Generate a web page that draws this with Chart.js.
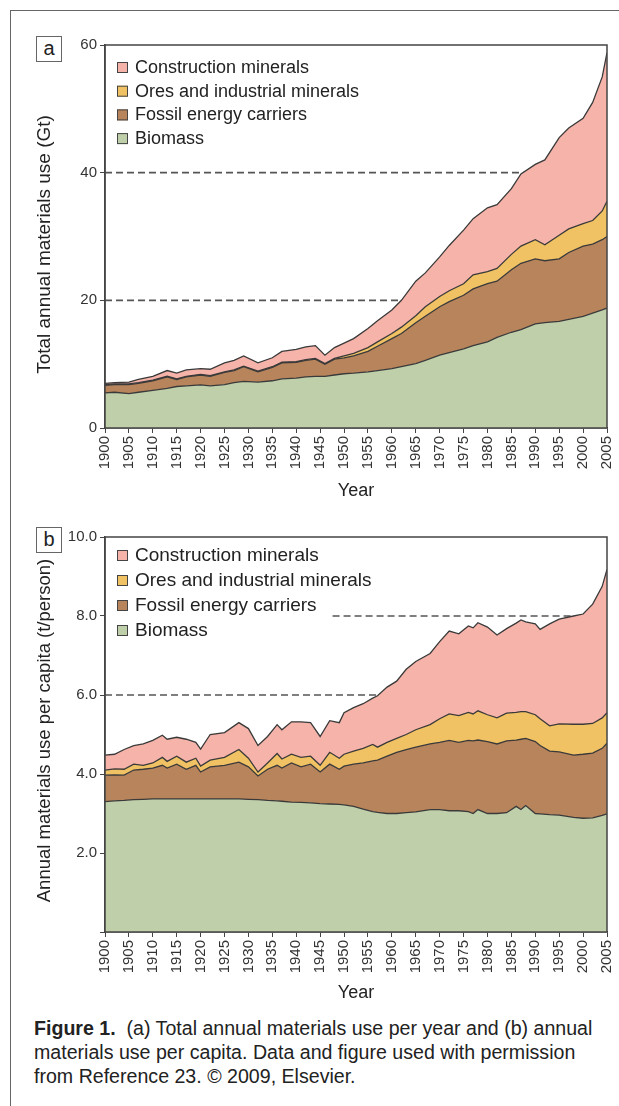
<!DOCTYPE html>
<html>
<head>
<meta charset="utf-8">
<script src="https://cdn.jsdelivr.net/npm/chart.js@4.4.1/dist/chart.umd.min.js"></script>
<style>
  body { margin: 0; width: 619px; height: 1106px; background: #fff; position: relative; overflow: hidden;
         font-family: "Liberation Sans", Arial, Helvetica, sans-serif; color: #222; }
  #frame { position: absolute; left: 10px; top: 10px; width: 640px; height: 1120px;
           border-top: 1.5px solid #666; border-left: 1.5px solid #666; }
  .wrap { position: absolute; left: 0; width: 628px; }
  #wrapA { top: 30px; height: 485px; }
  #wrapB { top: 520px; height: 490px; }
  .tag { position: absolute; left: 36px; width: 24px; height: 24px; border: 1px solid #666; background: #fff;
         font-size: 20px; text-align: center; line-height: 22px; }
  #caption { position: absolute; left: 34px; top: 1016px; width: 585px; font-size: 19.6px; line-height: 24px;
             color: #222; white-space: nowrap; }
</style>
</head>
<body>
<div id="frame"></div>
<div class="wrap" id="wrapA"><canvas id="chartA" width="628" height="485"></canvas></div>
<div class="wrap" id="wrapB"><canvas id="chartB" width="628" height="490"></canvas></div>
<div class="tag" style="top:36px">a</div>
<div class="tag" style="top:527px">b</div>
<div id="caption"><b>Figure 1.</b>&nbsp; (a) Total annual materials use per year and (b) annual<br>materials use per capita. Data and figure used with permission<br>from Reference 23. © 2009, Elsevier.</div>

<script>
// (a) 연간 총 사용량 (Gt)
const yearsA = [1900, 1902, 1905, 1907, 1910, 1913, 1915, 1917, 1920, 1922, 1925, 1927, 1929, 1932, 1935,
                1937, 1940, 1942, 1944, 1946, 1948, 1950, 1952, 1955, 1957, 1960, 1962, 1965, 1967, 1970,
                1972, 1975, 1977, 1980, 1982, 1985, 1987, 1990, 1992, 1995, 1997, 2000, 2002, 2004, 2005];
const biomassA = [5.5, 5.6, 5.4, 5.6, 5.9, 6.2, 6.5, 6.6, 6.75, 6.6, 6.8, 7.1, 7.3, 7.2, 7.4,
                  7.7, 7.8, 8.0, 8.1, 8.1, 8.3, 8.5, 8.6, 8.8, 9.0, 9.3, 9.6, 10.1, 10.6, 11.4,
                  11.8, 12.4, 12.9, 13.5, 14.2, 15.0, 15.4, 16.3, 16.5, 16.7, 17.0, 17.5, 18.0, 18.5, 18.8];
const fossilA = [1.2, 1.2, 1.4, 1.4, 1.5, 1.8, 1.1, 1.4, 1.55, 1.5, 1.9, 1.9, 2.3, 1.6, 2.1,
                 2.5, 2.5, 2.6, 2.7, 1.9, 2.5, 2.5, 2.7, 3.2, 3.8, 4.7, 5.2, 6.4, 6.9, 7.6,
                 8.0, 8.4, 8.9, 9.1, 8.8, 9.8, 10.4, 10.2, 9.7, 9.8, 10.5, 11.0, 10.8, 11.0, 11.2];
const oresA = [0.1, 0.1, 0.1, 0.1, 0.1, 0.1, 0.1, 0.1, 0.1, 0.1, 0.1, 0.1, 0.1, 0.1, 0.1,
               0.1, 0.1, 0.1, 0.1, 0.1, 0.1, 0.3, 0.4, 0.6, 0.7, 0.8, 1.0, 1.1, 1.5, 1.6,
               1.7, 1.8, 2.2, 1.9, 2.0, 2.4, 2.7, 3.0, 2.5, 3.7, 3.7, 3.5, 3.7, 4.5, 5.5];
const constructionA = [0.2, 0.2, 0.3, 0.5, 0.6, 0.9, 0.9, 1.0, 0.9, 1.0, 1.4, 1.5, 1.6, 1.3, 1.4,
                       1.7, 1.9, 2.0, 2.0, 1.3, 1.7, 2.0, 2.3, 3.0, 3.3, 3.7, 4.2, 5.4, 5.3, 6.2,
                       7.1, 8.4, 8.8, 10.0, 10.0, 10.3, 11.3, 11.8, 13.3, 15.3, 15.8, 16.5, 18.5, 21.0, 23.3];

// (b) 1인당 사용량 (t/person)
const yearsB = [1900, 1902, 1904, 1906, 1908, 1910, 1912, 1913, 1915, 1917, 1919, 1920, 1922, 1925, 1928,
                1930, 1932, 1934, 1936, 1937, 1939, 1941, 1943, 1945, 1947, 1949, 1950, 1952, 1954, 1956,
                1957, 1959, 1961, 1963, 1965, 1968, 1970, 1972, 1974, 1976, 1977, 1978, 1980, 1982, 1984,
                1986, 1987, 1988, 1990, 1991, 1993, 1995, 1998, 2000, 2002, 2004, 2005];
const biomassB = [3.30, 3.32, 3.33, 3.35, 3.36, 3.37, 3.37, 3.37, 3.37, 3.37, 3.37, 3.37, 3.37, 3.37, 3.37,
                  3.36, 3.35, 3.33, 3.32, 3.31, 3.29, 3.28, 3.27, 3.25, 3.24, 3.23, 3.22, 3.18, 3.11, 3.05,
                  3.03, 3.00, 3.00, 3.02, 3.04, 3.10, 3.10, 3.07, 3.07, 3.05, 3.00, 3.10, 3.00, 3.00, 3.02,
                  3.18, 3.10, 3.20, 3.00, 2.99, 2.97, 2.96, 2.90, 2.88, 2.89, 2.95, 2.99];
const fossilB = [0.67, 0.66, 0.64, 0.75, 0.76, 0.78, 0.85, 0.78, 0.88, 0.75, 0.85, 0.68, 0.81, 0.85, 0.93,
                 0.82, 0.60, 0.79, 0.90, 0.84, 0.99, 0.90, 0.98, 0.80, 1.01, 0.89, 0.98, 1.07, 1.17, 1.28,
                 1.32, 1.45, 1.55, 1.60, 1.64, 1.66, 1.70, 1.78, 1.73, 1.80, 1.84, 1.76, 1.82, 1.76, 1.82,
                 1.68, 1.78, 1.70, 1.82, 1.73, 1.61, 1.60, 1.58, 1.62, 1.64, 1.70, 1.79];
const oresB = [0.13, 0.15, 0.15, 0.15, 0.10, 0.13, 0.20, 0.17, 0.20, 0.18, 0.18, 0.15, 0.17, 0.20, 0.32,
               0.22, 0.10, 0.16, 0.30, 0.23, 0.22, 0.24, 0.20, 0.17, 0.30, 0.28, 0.30, 0.33, 0.37, 0.42,
               0.33, 0.35, 0.35, 0.38, 0.44, 0.49, 0.60, 0.67, 0.68, 0.71, 0.68, 0.74, 0.68, 0.66, 0.70,
               0.70, 0.70, 0.68, 0.68, 0.68, 0.64, 0.71, 0.78, 0.76, 0.75, 0.77, 0.77];
const constructionB = [0.38, 0.37, 0.50, 0.47, 0.54, 0.57, 0.56, 0.56, 0.48, 0.58, 0.40, 0.43, 0.65, 0.63, 0.68,
                       0.75, 0.67, 0.67, 0.73, 0.74, 0.82, 0.90, 0.85, 0.73, 0.80, 0.90, 1.05, 1.10, 1.13, 1.17,
                       1.30, 1.40, 1.45, 1.65, 1.73, 1.80, 1.95, 2.10, 2.07, 2.19, 2.18, 2.23, 2.22, 2.10, 2.14,
                       2.26, 2.32, 2.27, 2.30, 2.26, 2.58, 2.65, 2.74, 2.79, 3.02, 3.33, 3.63];

// 점선 기준선: 값, 시작 연도, 끝 연도
const guidesA = [{ value: 40, from: 1900, to: 1988 }, { value: 20, from: 1900, to: 1962 }];
const guidesB = [{ value: 6, from: 1900, to: 1957.3 }, { value: 8, from: 1947.6, to: 1998.2 }];

const seriesNames = ['Biomass', 'Fossil energy carriers', 'Ores and industrial minerals', 'Construction minerals'];
const seriesColors = ['#bfcfaa', '#b8845b', '#f0c264', '#f6b3a9'];

const FONT = '"Liberation Sans", Arial, Helvetica, sans-serif';

// 차트 안쪽 왼쪽 위에 범례 그리기
const insetLegend = {
    id: 'insetLegend',
    afterDraw(chart, args, opts) {
        const { ctx, chartArea } = chart;
        const items = chart.data.datasets.filter(d => d.inLegend).reverse();
        ctx.save();
        ctx.font = opts.fontSize + 'px ' + FONT;
        ctx.textBaseline = 'middle';
        items.forEach((d, i) => {
            const y = chartArea.top + opts.top + i * opts.gap;
            const bx = chartArea.left + 12;
            ctx.fillStyle = d.backgroundColor;
            ctx.fillRect(bx, y - 5, 11, 11);
            ctx.strokeStyle = '#444';
            ctx.lineWidth = 1;
            ctx.strokeRect(bx + 0.5, y - 4.5, 10, 10);
            ctx.fillStyle = '#222';
            ctx.fillText(d.label, chartArea.left + 30, y + 1);
        });
        ctx.restore();
    }
};

// 플롯 영역 테두리 + 세로축 제목
const plotBox = {
    id: 'plotBox',
    afterDraw(chart, args, opts) {
        const { ctx, chartArea } = chart;
        ctx.save();
        ctx.strokeStyle = '#444';
        ctx.lineWidth = 1.5;
        ctx.strokeRect(chartArea.left, chartArea.top, chartArea.right - chartArea.left, chartArea.bottom - chartArea.top);

        // 세로축 제목 (원본은 축 중앙에서 약간 어긋나 있음)
        const cy = (chartArea.top + chartArea.bottom) / 2 + opts.titleShift;
        ctx.translate(opts.titleX, cy);
        ctx.rotate(-Math.PI / 2);
        ctx.font = opts.titleSize + 'px ' + FONT;
        ctx.fillStyle = '#222';
        ctx.textAlign = 'center';
        ctx.textBaseline = 'middle';
        ctx.fillText(opts.title, 0, 0);
        ctx.restore();
    }
};

function makeDatasets(years, cols, guides) {
    const ds = cols.map((vals, i) => ({
        label: seriesNames[i],
        inLegend: true,
        data: years.map((yr, k) => ({ x: yr, y: vals[k] })),
        backgroundColor: seriesColors[i],
        borderColor: '#3a3a3a',
        borderWidth: 1.3,
        fill: i === 0 ? 'origin' : '-1',
        pointRadius: 0,
        tension: 0,
        stack: 'materials',
        order: 1
    }));
    guides.forEach((g, j) => {
        ds.push({
            label: 'guide' + j,
            data: [{ x: g.from, y: g.value }, { x: g.to, y: g.value }],
            borderColor: '#555',
            borderWidth: 1.6,
            borderDash: [7, 4],
            fill: false,
            pointRadius: 0,
            stack: 'guide' + j,
            order: 2
        });
    });
    return ds;
}

function makeChart(canvasId, datasets, cfg) {
    const ctx = document.getElementById(canvasId).getContext('2d');
    return new Chart(ctx, {
        type: 'line',
        data: { datasets: datasets },
        options: {
            responsive: false,
            animation: false,
            devicePixelRatio: 1,
            layout: { padding: { left: 0, right: 3, top: cfg.padTop, bottom: cfg.padBottom } },
            plugins: {
                legend: { display: false },
                tooltip: { enabled: false },
                insetLegend: { top: cfg.legendTop, gap: cfg.legendGap, fontSize: cfg.legendFont },
                plotBox: { title: cfg.yTitle, titleSize: cfg.yTitleFont, titleX: 45, titleShift: cfg.yTitleShift }
            },
            scales: {
                x: {
                    type: 'linear',
                    min: 1900,
                    max: 2005,
                    ticks: {
                        stepSize: 5,
                        autoSkip: false,
                        minRotation: 90,
                        maxRotation: 90,
                        padding: 3,
                        color: '#333',
                        font: { size: 15, family: FONT },
                        callback: v => String(v)
                    },
                    grid: { drawOnChartArea: false, drawTicks: true, tickLength: 5, color: '#444' },
                    border: { color: '#444', width: 1.5 },
                    title: { display: true, text: 'Year', color: '#222', font: { size: 18, family: FONT }, padding: 0 },
                    afterFit: s => { s.height = cfg.xHeight; }
                },
                y: {
                    stacked: true,
                    min: 0,
                    max: cfg.yMax,
                    ticks: {
                        stepSize: cfg.yStep,
                        padding: 3,
                        color: '#333',
                        font: { size: 15, family: FONT },
                        callback: cfg.yLabel
                    },
                    grid: { drawOnChartArea: false, drawTicks: true, tickLength: 5, color: '#444' },
                    border: { color: '#444', width: 1.5 },
                    title: { display: false },
                    afterFit: s => { s.width = 105; }
                }
            }
        },
        plugins: [plotBox, insetLegend]
    });
}

makeChart('chartA', makeDatasets(yearsA, [biomassA, fossilA, oresA, constructionA], guidesA), {
    padTop: 15, padBottom: 13, xHeight: 74,
    yMax: 60, yStep: 20, yLabel: v => String(v),
    yTitle: 'Total annual materials use (Gt)', yTitleFont: 19, yTitleShift: 8,
    legendTop: 22, legendGap: 23.7, legendFont: 18
});

makeChart('chartB', makeDatasets(yearsB, [biomassB, fossilB, oresB, constructionB], guidesB), {
    padTop: 17, padBottom: 6, xHeight: 72,
    yMax: 10, yStep: 2, yLabel: v => (v === 0 ? '' : v.toFixed(1)),
    yTitle: 'Annual materials use per capita (t/person)', yTitleFont: 18.5, yTitleShift: -4,
    legendTop: 18, legendGap: 25, legendFont: 19
});
</script>
</body>
</html>
